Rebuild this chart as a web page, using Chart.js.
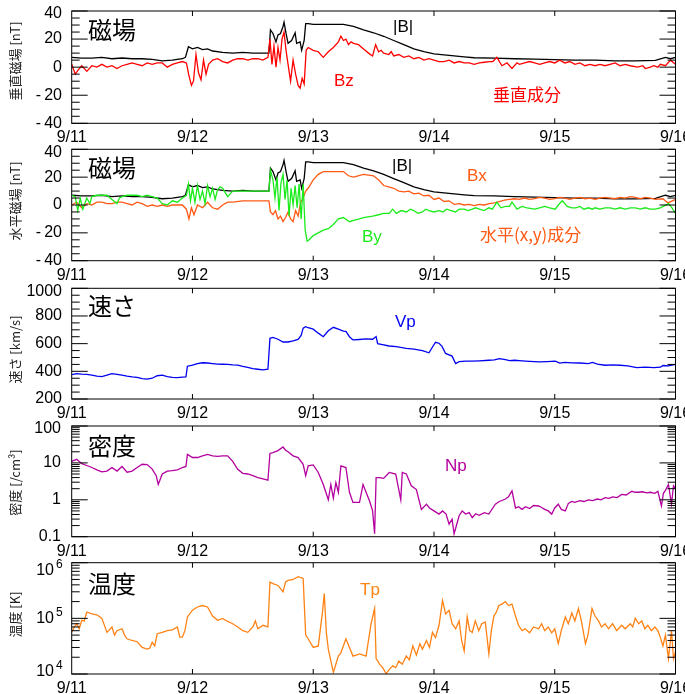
<!DOCTYPE html>
<html><head><meta charset="utf-8">
<script src="https://cdn.jsdelivr.net/npm/chart.js@4/dist/chart.umd.min.js"></script>
<style>
html,body{margin:0;padding:0;background:#fff;}
body{width:685px;height:694px;position:relative;overflow:hidden;}
canvas{position:absolute;left:0;}
</style></head><body>
<script>
// ---------- data (hours since 9/11 00:00) ----------
const DAY_LABELS = ['9/11','9/12','9/13','9/14','9/15','9/16'];

const T_B = [0,2,4,6,8,10,12,14,16,18,20,22,22.6,23.2,24,25,26,27,28,30,32,34,36,38,39.2,39.5,40,40.6,41,41.5,42,42.2,42.6,43,43.7,44.4,44.7,45.4,45.7,46.2,46.5,47,48,50,52,54,56,58,60,62,64,66,68,70,72,74,76,78,80,84,88,92,96,100,104,108,112,116,118,119,120];
const B_TOTAL = [7,6.5,6.5,7,6,6.5,6,6,5.5,4.5,5,6,7,14.5,13,14,12.5,13,11.5,10.5,10,10.5,10,10,10,26.5,24,18,23,24,29,32,24,17,19,24.5,17,18,12,19,31,31,30.5,30.5,30.5,30.5,29,26.5,24.5,22,19,16,13,11,9.5,8.7,8,7.3,6.7,6.5,6,5.7,5.3,5,5,4.5,4.4,4.8,7,6,7];

const T_BZ = [0,0.7,1.3,2,3,4,5,6,7,8,9,10,11,12,13,14,15,16,17,18,19,20,21,22,22.8,23.3,23.8,24.2,24.7,25.2,25.7,26.2,26.7,27.2,28,29,30,31,32,33,34,35,36,37,38,39,39.4,39.8,40.2,40.6,41,41.4,41.8,42.2,42.6,43,43.5,44,44.5,45,45.4,45.8,46.2,46.6,47,48,49,50,51,52,53,53.5,54,54.5,55,55.5,56,57,58,59,59.8,60.4,61,61.5,62,63,63.5,64,65,66,67,68,69,70,71,72,73,74,75,76,77,78,79,80,81,82,83,83.7,84.5,85.5,86.5,87.5,88.5,89,90,91,92,93,94,95,96,97,98,99,100,101,102,103,104,105,106,107,108,109,110,111,112.5,113.5,114,115,115.7,116.5,117,118,119,120];
const BZ = [2,-5,-2,1,-3,1,0,2,0,1,-1,1,2,3,2,1,3,2,3,3,0,2,3,4,3,-6,-13,-10,9,-4,-9,5,-5,2,5,6,4,3,5,6,6,5,6,6,5,7,20,2,15,0,14,5,20,25,12,2,-10,5,-5,-13,-15,-8,-12,12,14,12,11,7,11,14,18,22,19,20,16,18,17,16,13,10,8,16,11,12,10,9,11,8,9,7,8,6,7,5,6,5,4,4,5,3,4,3,3,2,3,3.5,4,4,7,1,3,-1,3,2,3,4,3,2,3,4,3,5,3,4,2,3,1,2,1,2,1,2,3,1,2,1,0,1,-1,0,1,0,2,1,5,2,1,3];

const T_BX = [0,1,2,3,4,5,6,7,8,9,10,11,12,13,14,15,16,17,18,19,20,21,22,22.8,23.3,23.8,24.3,25,26,27,28,29,30,31,32,34,36,38,39.2,39.5,40,40.5,41,41.5,42,42.5,43,43.5,44,44.5,45,45.5,46,46.5,47,48,49,50,52,54,55,56,58,60,61,62,63,64,65,66,67,68,69,70,71,72,73,74,75,76,77,78,79,80,81,82,83,84,85,86,87,88,89,90,91,92,93,94,95,96,97,98,99,100,101,102,103,104,105,106,107,108,109,110,111,112,113,114,115,116,117.5,118.5,120];
const BX = [0,2,-2,1,0,2,2,1,1,2,2,1,0,2,1,-1,0,-1,0,-1,0,0,0,-3,-10,-2,-7,0,-2,2,-2,-3,0,2,2,3,3,3,3,-5,-7,-4,-10,-8,-12,-9,-5,-10,-12,-4,-8,2,5,10,12,18,22,24,24,24,21,20,22,21,18,14,13,12,10,9.5,10,8,8.5,6.5,7,4,5,2.5,3,0.5,1,0,0.5,-0.5,0.5,0,1,1.5,2.5,3.5,4,4.5,4,5,4,4.5,5.5,5,4,4.5,5.5,5,4,5,5.5,4.5,5,4,5,5.5,5,4.5,5.5,5,6,5.5,4.5,5.5,5,4,4.5,1.5,4,5];

const T_BY = [0,0.7,1.2,1.7,2.2,3,3.6,4,5,6,7,8,9,9.5,10,11,12,13,14,15,16,17,18,19,20,21,22,22.8,23.2,23.6,24,24.5,25,25.5,26,26.5,27,27.5,28,28.5,29,29.5,30,31,32,34,36,38,39.2,39.5,40,40.4,40.8,41.2,41.6,42,42.4,42.8,43.2,43.6,44,44.4,44.8,45.2,45.6,46,46.4,46.8,47.2,48,49,50,51,52,53,54,55.2,56,57.2,58,59.8,61,62,63.1,63.8,64.5,65.5,66.5,67.3,68,68.8,69.7,70.4,71,72,73,73.8,74.5,75.4,76.3,77,78,78.8,79.6,80.3,81,82,82.9,83.6,84.5,85.3,86.2,87,87.5,88.5,89.5,90.5,92,93,94,95,96.1,96.7,97.5,98.5,99.4,100.2,101,101.8,102.7,103.5,104,105,106,107,108,109,110,111,112,113,114,115,116,117,118.6,119.3,120];
const BY = [7,6,-4,5,-3,5,1,6,7,7,7,4,1,5,6,7,7,7,6,7,6,5,1,0,3,2,5,7,15,3,12,2,14,4,10,1,14,6,12,4,11,13,12,6,10,10,10,10,10,25,18,5,20,-4,16,22,4,18,-8,12,0,14,-2,15,-10,15,-18,-26,-25,-22,-20,-18,-17,-14,-10,-9,-12,-11,-10,-9,-8,-7,-6,-6,-3,-6,-4,-5,-3,-4,-6,-5,-3,-4,-5,-4,-5,-3,-4,-5,-3,-3,-4,-3,-2,-3,-4,-2,-3,2,-2,-1,-1,2,-3,-1,-2,-3,-2,-1,-2,-3,0,3,-1,-2,-2,-1,-3,-2,-3,-2,-3,-2,-2,-3,-2,-3,-2,-2,-3,-2,-3,-3,-2,1,-2,-6,-3,-5];

const T_VP = [0,1,2,3,4,5,6,7,8,9,10,11,12,13,14,15,16,17,18,19,20,21,22,22.7,23,24,25,26,27,28,29,30,31,32,33,34,35,36,37,38,39,39.4,40,41,42,43,44,45,45.6,46,46.5,47,48,49,50,51,52,53,54,54.5,55.2,55.9,57.2,58.5,59.8,60.5,60.8,61.5,63.1,64.5,66.5,68,69.7,71,72.3,73,73.6,74.3,75.6,76.3,77,78.3,79.6,81,82.9,84,85,86.2,87,88,89.5,91,92.8,94.5,96.1,97,98,99.4,101,102.7,103.5,104.5,106,107.5,109,110.5,112.3,114,115.7,117,117.5,118.6,120];
const VP = [376,383,380,378,372,366,362,372,383,378,372,365,360,356,348,343,350,368,372,362,356,354,358,360,437,445,456,462,460,456,452,451,450,447,445,436,428,420,415,410,415,639,645,632,612,612,620,630,660,712,722,715,705,676,650,693,718,705,690,688,650,627,630,634,632,651,600,595,583,578,566,560,549,534,610,603,580,529,510,456,470,473,473,476,480,482,492,485,478,480,476,472,468,470,473,460,465,461,460,456,464,452,444,447,444,440,427,430,427,430,442,440,450];

const T_NP = [0,1,2,3,4,5,6,7,8,9,10,11,12,13,14,15,16,16.8,17.2,18,19,20,21,22,22.7,23,24,25,26,27,28,29,30,31,32,33,34,35,36,37,38,39,39.4,40,41,42,42.5,43,44,45,46,46.5,47,48,49,50,51,51.5,52,52.5,53,53.5,54.5,55.2,55.9,57.2,57.9,58.5,59.2,59.8,60.2,60.5,61.2,62,63.1,64.4,65.4,65.7,66.5,67.5,68.5,69.5,70.5,71.1,72,73,73.7,74.4,75,75.6,76,77,77.6,78.3,79,79.6,80.3,81,82,82.9,84.2,85,86.2,86.8,87.5,88.2,88.8,89.5,90.2,91,91.8,92.8,93.4,94,94.7,95.4,96,96.7,97.3,98.1,98.7,99.4,100,101,101.8,102.7,103.5,104.5,105.2,106,106.8,107.5,108.4,109.3,110.2,111.3,112,112.6,113.4,114.3,115,115.9,116.5,117.2,117.6,118,118.6,119.2,119.6,120];
const NP = [11,12.5,9.5,8.5,7.5,6.5,5.7,6,7.5,6,8,5.6,6,7.5,9.2,9,6.8,4.5,2.6,5,6,6.2,6.5,7.5,8,17,14,14,15.5,17,15.5,15,15.5,15.5,11,6.7,5.2,5,4.5,4,3.7,3.4,18,19,21.5,27,22,20,15.5,14,9.2,4.5,8.3,8.8,5.5,2.6,1.0,2.6,1.1,2.9,1.6,8.3,7.5,1.6,0.85,0.85,2.6,1.6,0.93,0.5,0.12,4,4,3.8,5.5,5,1,5.5,5,2.4,1.9,0.55,0.76,0.6,0.5,0.41,0.5,0.41,0.22,0.3,0.12,0.37,0.5,0.41,0.45,0.33,0.42,0.38,0.45,0.41,0.76,0.9,1.05,1.2,1.75,0.6,0.65,0.55,0.65,0.58,0.7,0.68,0.62,0.55,0.5,0.41,0.6,0.76,0.55,0.5,0.8,0.9,0.85,0.95,0.9,1.0,0.95,1.05,1.0,1.15,1.1,1.2,1.15,1.4,1.35,1.7,1.6,1.6,1.65,1.55,1.6,1.5,1.7,0.68,1.5,1.8,2.6,0.76,2.4,2];

const T_TP = [0,0.5,1,1.5,2,2.5,3,4,5,6,7,8,8.5,9,10,10.5,11,12,13,14,15,15.5,16,16.5,17,18,19,20,21,21.5,22,22.5,23,24,25,26,27,28,29,30,31,32,33,34,35,36,36.5,37,38,39,39.4,40,41,42,42.5,43,44,45,46,46.5,47,48,49,49.8,50.2,50.6,51,52,52.5,53,53.5,54.5,55.9,57.2,58.5,59.5,60.2,60.5,61.2,61.8,62.5,63.1,63.8,64.4,65,65.7,66.5,67.1,67.8,68.5,69.2,69.7,70.5,71.1,71.7,72.3,73,73.7,74.3,75,75.6,76.3,77,77.5,78,78.6,79.1,79.6,80.2,80.9,81.5,82.2,82.9,83.4,83.9,84.4,84.9,85.5,86.2,86.8,87.5,88.2,88.8,89.5,90.1,91,91.8,92.8,93.4,94,94.7,95.4,96,96.7,97.3,98.1,98.7,99.4,100,100.7,101.3,102.1,102.6,103.4,104,104.7,105.3,106,106.7,107.5,108.3,109.3,110,111,111.5,112,112.7,113.3,113.9,114.5,115.2,115.9,116.5,117,117.5,118,118.6,119.2,119.6,120];
const TP = [5.6e4,7e4,8e4,6.5e4,9.2e4,9e4,1.3e5,1.2e5,1.16e5,1e5,5.6e4,7e4,5e4,6e4,6.5e4,5e4,4.3e4,4e4,3.8e4,3e4,2.8e4,2.9e4,3.7e4,3.2e4,5.3e4,5.6e4,6e4,6.2e4,7e4,4.6e4,4.6e4,6e4,1.06e5,1.4e5,1.6e5,1.7e5,1.6e5,1.1e5,9.2e4,1e5,8.8e4,8e4,7e4,6e4,5.6e4,7e4,9e4,6.5e4,7.5e4,7e4,4.5e5,4.2e5,3.9e5,3e5,4.5e5,4.8e5,5e5,5.6e5,5.2e5,5e4,4.3e4,3e4,3.2e4,1.2e5,2.8e5,5.6e4,2.8e4,1.07e4,1.5e4,2.1e4,2.4e4,4.3e4,2.1e4,2.3e4,2.1e4,8e4,1.5e5,1.9e4,1.5e4,1.3e4,1.02e4,1.2e4,1.4e4,1.3e4,1.7e4,1.5e4,2.1e4,1.8e4,3.2e4,2.2e4,3.5e4,2.8e4,4e4,3e4,5.6e4,4.5e4,7.5e4,2.1e5,1.2e5,1.4e5,8e4,6.5e4,9e4,4e4,2.6e4,1.06e5,6e4,5.6e4,9e4,6e4,8e4,8.6e4,2.3e4,6e4,1.1e5,1.3e5,1.7e5,1.8e5,2e5,1.7e5,1.8e5,1.1e5,7.5e4,6e4,6.5e4,5.5e4,7e4,6.5e4,8e4,6e4,7e4,5.5e4,6.5e4,3.5e4,6e4,1.06e5,8e4,1.25e5,9e4,1.5e5,9e4,3.5e4,5e4,1.5e5,1.1e5,9e4,7e4,8e4,6.5e4,8e4,6e4,7.5e4,6.5e4,8e4,7e4,1e5,8e4,9e4,6.5e4,7.5e4,6e4,7e4,6e4,4.5e4,3.2e4,5e4,1.9e4,6e4,1.9e4,2.5e4];

const DEN_TICKS = [0.1,1,10,100];
const DEN_LABELS = ['0.1','1','10','100'];
const TEMP_TICKS = [1e4,1e5,1e6];
const TEMP_EXP = ['4','5','6'];

// ---------- layout / style ----------
const W = 685, LEFT = 71.7, RIGHT = 675.5;
const CJK = '"Noto Sans CJK JP", "Noto Sans CJK SC", sans-serif';
const SANS = '"Liberation Sans", Arial, sans-serif';

function pts(t, v){ return t.map((x,i)=>({x:x, y:v[i]})); }
function ds(t, v, color){ return {data: pts(t,v), borderColor: color, borderWidth: 1.3, pointRadius: 0, fill:false, tension:0}; }

const PANELS = [
  {top:11, bottom:123.3, type:'linear', min:-40, max:40, major:20, minor:5,
   datasets:[ds(T_BZ,BZ,'#ff0000'), ds(T_B,B_TOTAL,'#000000')],
   title:['垂直磁場 [nT]',15,61],
   labels:[['磁場',88,29.5,'#000',CJK,24],['|B|',393,27,'#000',SANS,17],['Bz',334,81,'#ff0000',SANS,17],['垂直成分',493,94.5,'#ff0000',CJK,17]]},
  {top:149.3, bottom:260.7, type:'linear', min:-40, max:40, major:20, minor:5,
   datasets:[ds(T_BY,BY,'#1aeb1a'), ds(T_BX,BX,'#ff5a14'), ds(T_B,B_TOTAL,'#000000')],
   title:['水平磁場 [nT]',15,201],
   labels:[['磁場',88,168,'#000',CJK,24],['|B|',392,166.5,'#000',SANS,17],['Bx',467,176.5,'#ff5a14',SANS,17],['By',362,237,'#1aeb1a',SANS,17],['水平(x,y)成分',480,235,'#ff5a14',CJK,17]]},
  {top:288.3, bottom:399, type:'linear', min:200, max:1000, major:200, minor:50,
   datasets:[ds(T_VP,VP,'#0000f0')],
   title:['速さ [km/s]',15,349.5],
   labels:[['速さ',88,306,'#000',CJK,24],['Vp',395,322.5,'#0000f0',SANS,17]]},
  {top:426, bottom:536.7, type:'logarithmic', min:0.1, max:100, ticks:DEN_TICKS, tickLabels:DEN_LABELS,
   datasets:[ds(T_NP,NP,'#b4009e')],
   title:['密度 [/cm³]',15,482.5],
   labels:[['密度',88,446,'#000',CJK,24],['Np',445,466,'#b4009e',SANS,17]]},
  {top:562.7, bottom:674, type:'logarithmic', min:1e4, max:1e6, ticks:TEMP_TICKS, exps:TEMP_EXP,
   datasets:[ds(T_TP,TP,'#ff8214')],
   title:['温度 [K]',15,614.5],
   labels:[['温度',88,584,'#000',CJK,24],['Tp',360,590,'#ff8214',SANS,17]]}
];

function tickValues(P){
  const out = [];
  if (P.type === 'linear') {
    for (let v = P.min; v <= P.max + 1e-9; v += P.minor) out.push([v, Math.abs(v % P.major) < 1e-9]);
  } else {
    for (let d = P.min; d < P.max * 1.0001; d *= 10) {
      for (let k = 1; k <= 9; k++) { const v = k*d; if (v > P.max*1.0001) break; out.push([v, k===1]); }
    }
  }
  return out;
}

function framePlugin(P, cTop){
  return {
    id: 'frame',
    afterDraw(chart){
      const ctx = chart.ctx, a = chart.chartArea, x = chart.scales.x, y = chart.scales.y;
      ctx.save();
      ctx.strokeStyle = '#000'; ctx.lineWidth = 1;
      ctx.strokeRect(a.left, a.top, a.right-a.left, a.bottom-a.top);
      ctx.beginPath();
      tickValues(P).forEach(([v, major]) => {
        const py = y.getPixelForValue(v), len = major ? 16 : 8;
        ctx.moveTo(a.left, py); ctx.lineTo(a.left+len, py);
        ctx.moveTo(a.right, py); ctx.lineTo(a.right-len, py);
      });
      for (let h = 24; h < 120; h += 24) {
        const px = x.getPixelForValue(h);
        ctx.moveTo(px, a.top); ctx.lineTo(px, a.top+5);
        ctx.moveTo(px, a.bottom); ctx.lineTo(px, a.bottom-5);
      }
      ctx.stroke();
      // y tick labels
      ctx.fillStyle = '#000'; ctx.textAlign = 'right'; ctx.textBaseline = 'middle';
      if (P.type === 'linear') {
        ctx.font = '16px ' + SANS;
        for (let v = P.min; v <= P.max; v += P.major) {
          const py = Math.max(y.getPixelForValue(v), a.top + 3);
          const s = v < 0 ? '-\u2009' + Math.abs(v) : String(v);
          ctx.fillText(s, 62, py);
        }
      } else if (P.tickLabels) {
        ctx.font = '16px ' + SANS;
        P.ticks.forEach((v,i) => {
          const py = Math.max(y.getPixelForValue(v), a.top + 3);
          ctx.fillText(P.tickLabels[i], 61, py);
        });
      } else {
        P.ticks.forEach((v,i) => {
          const py = Math.min(Math.max(y.getPixelForValue(v), a.top + 8), a.bottom - 2);
          ctx.font = '16px ' + SANS;
          ctx.fillText('10', 54, py);
          ctx.font = '12px ' + SANS;
          ctx.textAlign = 'left';
          ctx.fillText(P.exps[i], 56, py - 6);
          ctx.textAlign = 'right';
        });
      }
      // annotations
      ctx.textAlign = 'left'; ctx.textBaseline = 'middle';
      P.labels.forEach(([s, lx, ly, col, fam, size]) => {
        ctx.fillStyle = col; ctx.font = size + 'px ' + fam;
        ctx.fillText(s, lx, ly - cTop);
      });
      // axis title
      ctx.save();
      ctx.translate(P.title[1], P.title[2] - cTop);
      ctx.rotate(-Math.PI/2);
      ctx.fillStyle = '#222'; ctx.font = '13px ' + CJK; ctx.textAlign = 'center'; ctx.textBaseline = 'middle';
      ctx.fillText(P.title[0], 0, 0);
      ctx.restore();
      ctx.restore();
    }
  };
}

PANELS.forEach((P) => {
  const cTop = Math.floor(P.top) - 12;
  const padTop = P.top - cTop;
  const H = 150;
  const xH = H - padTop - (P.bottom - P.top);
  const cv = document.createElement('canvas');
  cv.width = W; cv.height = H;
  cv.style.top = cTop + 'px'; cv.style.width = W + 'px'; cv.style.height = H + 'px';
  document.body.appendChild(cv);
  const yScale = {type: P.type, min: P.min, max: P.max, position:'left',
    grid:{display:false}, border:{display:false}, ticks:{display:false},
    afterFit(s){ s.width = LEFT; s.paddingTop = 0; s.paddingBottom = 0; }};
  new Chart(cv, {
    type: 'line',
    data: {datasets: P.datasets},
    options: {
      responsive:false, animation:false, events:[],
      parsing:false, normalized:true,
      layout:{padding:{top:padTop, left:0, right:W-RIGHT, bottom:0}},
      plugins:{legend:{display:false}, tooltip:{enabled:false}},
      scales:{
        x:{type:'linear', min:0, max:120, position:'bottom',
          grid:{display:false, drawTicks:false}, border:{display:false},
          ticks:{stepSize:24, autoSkip:false, maxRotation:0, padding:5, color:'#000',
            font:{family:'Liberation Sans', size:16},
            callback:(v)=>DAY_LABELS[Math.round(v/24)]},
          afterFit(s){ s.height = xH; s.paddingLeft = 0; s.paddingRight = 0; }},
        y: yScale
      }
    },
    plugins:[framePlugin(P, cTop)]
  });
});
</script>
</body></html>
